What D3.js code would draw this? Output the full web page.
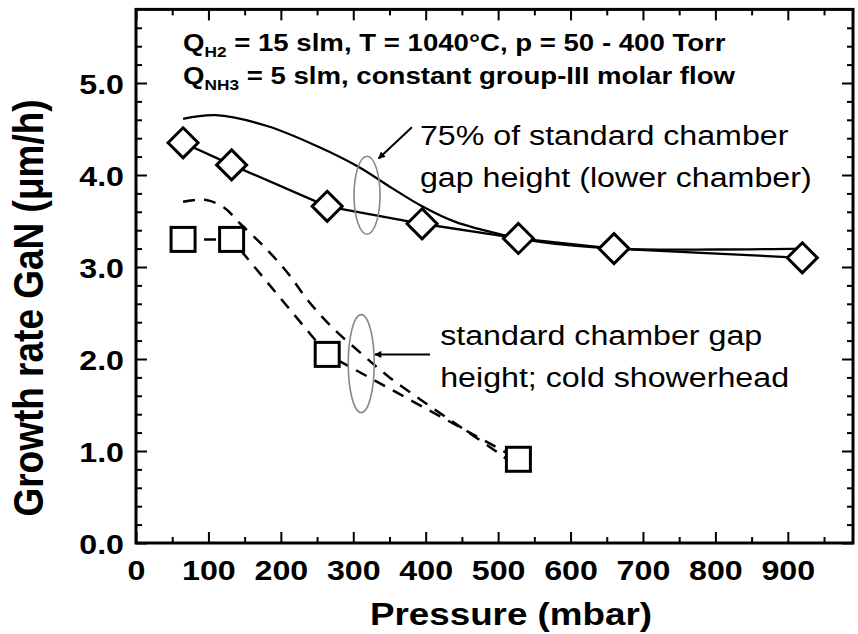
<!DOCTYPE html>
<html>
<head>
<meta charset="utf-8">
<script src="https://cdn.jsdelivr.net/npm/d3@7"></script>
<style>
  body { margin: 0; background: #fff; }
  svg { display: block; }
  text { font-family: "Liberation Sans", Arial, sans-serif; }
</style>
</head>
<body>
<script>
//Width and height
var w = 858;
var h = 634;
var stretch = 1.15;  //original figure is stretched sideways

//Data (pressure in mbar, growth rate in um/h)
var lowPressure  = [65, 132, 264, 395, 528, 660, 920];
var lowRate      = [4.35, 4.11, 3.66, 3.47, 3.31, 3.20, 3.10];
var stdPressure  = [65, 132, 264, 528];
var stdRate      = [3.30, 3.30, 2.05, 0.91];

//Guide curves drawn through each set
var lowFitPressure = [65, 110, 182, 251, 307, 353, 395, 441, 506, 560, 662, 800, 920];
var lowFitRate     = [4.61, 4.65, 4.53, 4.31, 4.09, 3.86, 3.66, 3.49, 3.35, 3.27, 3.20, 3.19, 3.20];
var stdFitPressure = [65, 95, 121, 144, 177, 210, 237, 270, 311, 350, 400, 450, 500, 530];
var stdFitRate     = [3.71, 3.73, 3.65, 3.47, 3.22, 2.93, 2.64, 2.35, 2.06, 1.80, 1.52, 1.25, 0.98, 0.80];

//Tick values
var xMajor = [0, 100, 200, 300, 400, 500, 600, 700, 800, 900];
var xMinor = [50, 150, 250, 350, 450, 550, 650, 750, 850, 950];
var yMajor = [0, 1, 2, 3, 4, 5];
var yMinor = [0.2, 0.4, 0.6, 0.8, 1.2, 1.4, 1.6, 1.8, 2.2, 2.4, 2.6, 2.8,
              3.2, 3.4, 3.6, 3.8, 4.2, 4.4, 4.6, 4.8, 5.2, 5.4, 5.6];

//Texts
var conditionLines = [
  ["Q", "H2", " = 15 slm, T = 1040°C, p = 50 - 400 Torr"],
  ["Q", "NH3", " = 5 slm, constant group-III molar flow"]
];
var lowNote = ["75% of standard chamber", "gap height (lower chamber)"];
var stdNote = ["standard chamber gap", "height; cold showerhead"];
var xTitle = "Pressure (mbar)";
var yTitle = "Growth rate GaN (\u03BCm/h)";

var zip = function(xs, ys) { return xs.map(function(v, i) { return [v, ys[i]]; }); };

//Scales
var xScale = d3.scaleLinear().domain([0, 990]).range([136, 853]);
var yScale = d3.scaleLinear().domain([0, 5.8]).range([543, 9.4]);

var svg = d3.select("body")
      .append("svg")
      .attr("width", w)
      .attr("height", h);

svg.append("defs").append("marker")
   .attr("id", "head")
   .attr("viewBox", "0 0 10 10")
   .attr("refX", 9).attr("refY", 5)
   .attr("markerWidth", 8).attr("markerHeight", 7)
   .attr("markerUnits", "userSpaceOnUse")
   .attr("orient", "auto")
   .append("path").attr("d", "M0,0L10,5L0,10z").attr("fill", "#000");

var line = d3.line()
      .x(function(d) { return xScale(d[0]); })
      .y(function(d) { return yScale(d[1]); });
var smooth = d3.line()
      .curve(d3.curveCatmullRom.alpha(0.5))
      .x(function(d) { return xScale(d[0]); })
      .y(function(d) { return yScale(d[1]); });

//Axes: ticks point inward on all four sides
function styleAxis(g) {
  g.select(".domain").remove();
  g.selectAll(".tick line").attr("stroke", "#000").attr("stroke-width", 2);
}
svg.append("g").attr("transform", "translate(0," + yScale(0) + ")")
   .call(d3.axisBottom(xScale).tickValues(xMajor).tickSize(-11).tickPadding(17).tickFormat(d3.format("d")))
   .call(styleAxis)
   .call(function(g) {
     g.selectAll("text").attr("font-size", 28).attr("font-weight", "bold").attr("fill", "#000")
      .attr("transform", "scale(" + stretch + ",1)");
   });
svg.append("g").attr("transform", "translate(0," + yScale(0) + ")")
   .call(d3.axisBottom(xScale).tickValues(xMinor).tickSize(-6).tickFormat(""))
   .call(styleAxis);
svg.append("g").attr("transform", "translate(0," + yScale(5.8) + ")")
   .call(d3.axisTop(xScale).tickValues(xMajor).tickSize(-11).tickFormat(""))
   .call(styleAxis);
svg.append("g").attr("transform", "translate(0," + yScale(5.8) + ")")
   .call(d3.axisTop(xScale).tickValues(xMinor).tickSize(-6).tickFormat(""))
   .call(styleAxis);
svg.append("g").attr("transform", "translate(" + xScale(0) + ",0)")
   .call(d3.axisLeft(yScale).tickValues(yMajor).tickSize(-11).tickPadding(0).tickFormat(d3.format(".1f")))
   .call(styleAxis)
   .call(function(g) {
     g.selectAll("text").attr("font-size", 28).attr("font-weight", "bold").attr("fill", "#000")
      .attr("x", -12 / stretch).attr("dy", "0.36em")
      .attr("transform", "scale(" + stretch + ",1)");
   });
svg.append("g").attr("transform", "translate(" + xScale(0) + ",0)")
   .call(d3.axisLeft(yScale).tickValues(yMinor).tickSize(-6).tickFormat(""))
   .call(styleAxis);
svg.append("g").attr("transform", "translate(" + xScale(990) + ",0)")
   .call(d3.axisRight(yScale).tickValues(yMajor).tickSize(-11).tickFormat(""))
   .call(styleAxis);
svg.append("g").attr("transform", "translate(" + xScale(990) + ",0)")
   .call(d3.axisRight(yScale).tickValues(yMinor).tickSize(-6).tickFormat(""))
   .call(styleAxis);

//Frame
svg.append("rect")
   .attr("x", xScale(0)).attr("y", yScale(5.8))
   .attr("width", xScale(990) - xScale(0))
   .attr("height", yScale(0) - yScale(5.8))
   .attr("fill", "none").attr("stroke", "#000").attr("stroke-width", 3);

//Axis titles
svg.append("g").attr("transform", "translate(511,625) scale(" + stretch + ",1)")
   .append("text").attr("text-anchor", "middle")
   .attr("font-size", 32).attr("font-weight", "bold").text(xTitle);
svg.append("g").attr("transform", "translate(43,308) scale(" + stretch + ",1) rotate(-90)")
   .append("text").attr("text-anchor", "middle")
   .attr("font-size", 37).attr("font-weight", "bold").text(yTitle);

//Guide curves
svg.append("path").datum(zip(lowFitPressure, lowFitRate))
   .attr("d", smooth).attr("fill", "none").attr("stroke", "#000").attr("stroke-width", 2.3);
svg.append("path").datum(zip(stdFitPressure, stdFitRate))
   .attr("d", smooth).attr("fill", "none").attr("stroke", "#000").attr("stroke-width", 2.5)
   .attr("stroke-dasharray", "12,9");

//Connecting lines
svg.append("path").datum(zip(lowPressure, lowRate))
   .attr("d", line).attr("fill", "none").attr("stroke", "#000").attr("stroke-width", 2.3);
svg.append("path").datum(zip(stdPressure, stdRate))
   .attr("d", line).attr("fill", "none").attr("stroke", "#000").attr("stroke-width", 2.5)
   .attr("stroke-dasharray", "12,9");

//Markers
svg.selectAll(".diamond").data(zip(lowPressure, lowRate)).enter()
   .append("path").attr("class", "diamond")
   .attr("d", "M0,-15L15,0L0,15L-15,0Z")
   .attr("transform", function(d) { return "translate(" + xScale(d[0]) + "," + yScale(d[1]) + ")"; })
   .attr("fill", "#fff").attr("stroke", "#000").attr("stroke-width", 3);
svg.selectAll(".square").data(zip(stdPressure, stdRate)).enter()
   .append("rect").attr("class", "square")
   .attr("x", function(d) { return xScale(d[0]) - 12; })
   .attr("y", function(d) { return yScale(d[1]) - 12; })
   .attr("width", 24).attr("height", 24)
   .attr("fill", "#fff").attr("stroke", "#000").attr("stroke-width", 3);

//Ellipses that group the curves, with arrows to the notes
svg.append("ellipse").attr("cx", xScale(319)).attr("cy", yScale(3.78))
   .attr("rx", 13).attr("ry", 39)
   .attr("fill", "none").attr("stroke", "#888").attr("stroke-width", 1.6);
svg.append("ellipse").attr("cx", xScale(311)).attr("cy", yScale(1.95))
   .attr("rx", 13).attr("ry", 49)
   .attr("fill", "none").attr("stroke", "#888").attr("stroke-width", 1.6);
svg.append("line")
   .attr("x1", xScale(381)).attr("y1", yScale(4.52))
   .attr("x2", xScale(335)).attr("y2", yScale(4.18))
   .attr("stroke", "#000").attr("stroke-width", 2).attr("marker-end", "url(#head)");
svg.append("line")
   .attr("x1", xScale(406)).attr("y1", yScale(2.05))
   .attr("x2", xScale(330)).attr("y2", yScale(2.05))
   .attr("stroke", "#000").attr("stroke-width", 2).attr("marker-end", "url(#head)");

//Notes
function note(lines, px, py) {
  var g = svg.append("g")
        .attr("transform", "translate(" + xScale(px) + "," + yScale(py) + ") scale(" + stretch + ",1)");
  g.selectAll("text").data(lines).enter().append("text")
   .attr("y", function(d, i) { return i * 42; })
   .attr("font-size", 28).attr("fill", "#000")
   .text(function(d) { return d; });
}
note(lowNote, 392, 4.33);
note(stdNote, 420, 2.15);

//Process conditions
var cond = svg.append("g").attr("transform", "translate(183,51) scale(" + stretch + ",1)");
conditionLines.forEach(function(parts, i) {
  var t = cond.append("text").attr("y", i * 33)
        .attr("font-size", 24).attr("font-weight", "bold");
  t.append("tspan").text(parts[0]);
  t.append("tspan").attr("font-size", 15).attr("dy", 6).text(parts[1]);
  t.append("tspan").attr("dy", -6).text(parts[2]);
});
</script>
</body>
</html>
